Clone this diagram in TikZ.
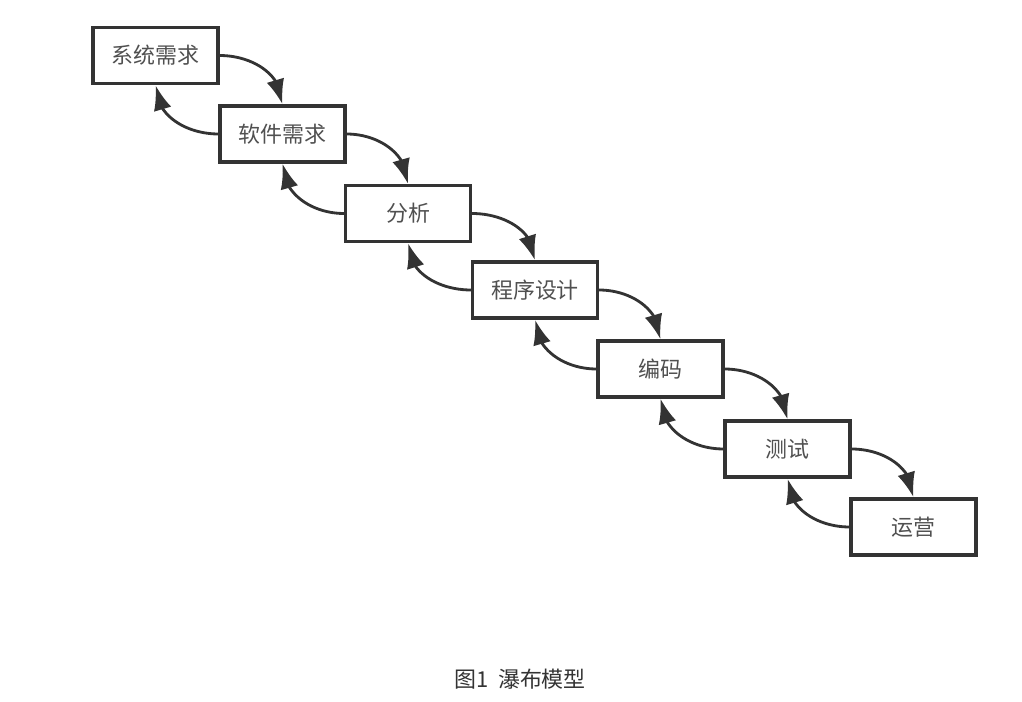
\documentclass[tikz,border=0pt]{standalone}
\usepackage{fontspec}
\newfontfamily\cjk{Noto Sans CJK SC}
\usetikzlibrary{arrows.meta,bending}
\definecolor{framegray}{HTML}{333333}
\definecolor{labelgray}{HTML}{505050}
\tikzset{
  stage/.style={draw=framegray, line width=1.9pt, fill=white, minimum width=2.5cm,
    minimum height=1.12cm, inner sep=0pt, font=\cjk\fontsize{12.5}{14}\selectfont, text=labelgray},
  flow/.style={draw=framegray, line width=1.6pt, -{Latex[length=0.5cm,width=0.36cm,flex]}},
  caption/.style={font=\cjk\fontsize{12.5}{14}\selectfont, text=framegray}
}
\begin{document}
\begin{tikzpicture}[x=0.02cm, y=-0.02cm]
\useasboundingbox (0,0) rectangle (1022,702);
% stages of the waterfall
\foreach \i/\x/\y/\t in {1/155.5/55.5/系统需求, 2/282.5/134/软件需求, 3/408/213.5/分析,
  4/535/290/程序设计, 5/660.5/369/编码, 6/787.5/449/测试, 7/913.5/527/运营}
{
	\node[stage] (s\i) at (\x,\y) {\t};
}
% forward and backward flows
\foreach \a/\b in {1/2, 2/3, 3/4, 4/5, 5/6, 6/7}
{
	\draw[flow] (s\a.east) to[out=0, in=90] (s\b.north);
	\draw[flow] (s\b.west) to[out=180, in=-90] (s\a.south);
}
\node[caption] (cap) at (520,679) {图1\ \ 瀑布模型};
\end{tikzpicture}
\end{document}
